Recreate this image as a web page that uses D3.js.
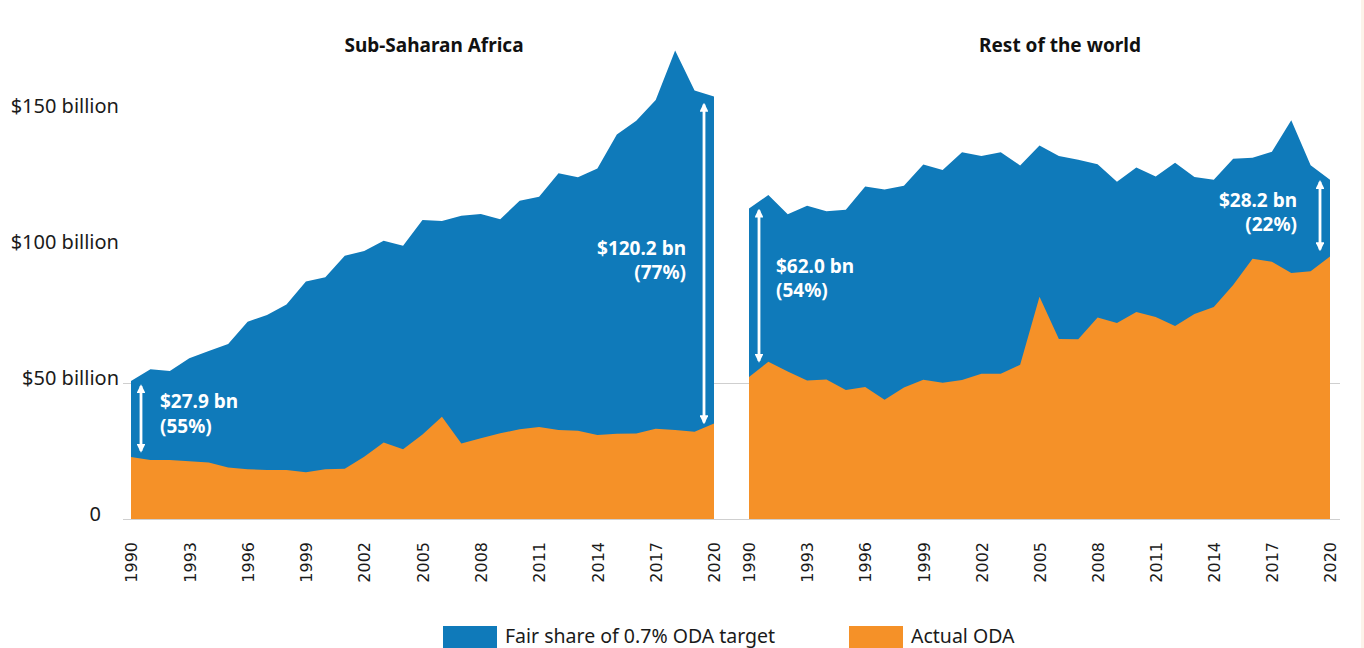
<!DOCTYPE html>
<html>
<head>
<meta charset="utf-8">
<script src="https://cdn.jsdelivr.net/npm/d3@7"></script>
<style>
	body { margin: 0; background: #ffffff; }
	svg { display: block; }
	.ylab { font-family: "Noto Sans", sans-serif; font-size: 20px; fill: #1a1a1a; }
	.xlab { font-family: "DejaVu Sans", sans-serif; font-size: 16px; fill: #1a1a1a; }
	.title { font-family: "Noto Sans", sans-serif; font-size: 19px; font-weight: bold; fill: #111; }
	.note { font-family: "Noto Sans", sans-serif; font-size: 19px; font-weight: bold; fill: #ffffff; }
	.legend { font-family: "Noto Sans", sans-serif; font-size: 19.5px; fill: #1a1a1a; }
</style>
</head>
<body>
<script>
/*data (US$ billion)*/
var years = [1990, 1991, 1992, 1993, 1994, 1995, 1996, 1997, 1998, 1999, 2000,
	2001, 2002, 2003, 2004, 2005, 2006, 2007, 2008, 2009, 2010,
	2011, 2012, 2013, 2014, 2015, 2016, 2017, 2018, 2019, 2020];
var tickYears = [1990, 1993, 1996, 1999, 2002, 2005, 2008, 2011, 2014, 2017, 2020];
var yTicks = [0, 50, 100, 150];
var gridValues = [0, 50];

var ssaTarget = [50.7, 55.1, 54.4, 59.1, 61.8, 64.3, 72.5, 75.0, 78.9, 87.3, 88.9,
	96.8, 98.5, 102.3, 100.5, 109.9, 109.6, 111.5, 112.1, 110.2, 117.0,
	118.5, 127.1, 125.6, 128.9, 141.4, 146.4, 154.0, 172.2, 157.5, 155.3];
var ssaActual = [22.8, 21.7, 21.7, 21.2, 20.8, 18.9, 18.3, 18.0, 18.0, 17.2, 18.3,
	18.5, 22.9, 28.1, 25.6, 31.1, 37.6, 27.8, 29.7, 31.5, 33.0,
	33.8, 32.7, 32.4, 30.9, 31.3, 31.4, 33.2, 32.7, 32.1, 35.1];
var rowTarget = [114.2, 119.1, 112.0, 115.2, 113.1, 113.7, 122.2, 121.1, 122.5, 130.3, 128.3,
	134.8, 133.5, 134.8, 130.0, 137.3, 133.5, 132.1, 130.4, 124.0, 129.2,
	125.9, 131.0, 125.7, 124.7, 132.4, 132.8, 135.0, 146.6, 130.1, 124.7];
var rowActual = [52.2, 57.8, 54.2, 50.9, 51.3, 47.4, 48.5, 43.8, 48.3, 51.2, 50.1,
	51.1, 53.4, 53.4, 56.7, 81.7, 66.2, 66.1, 74.1, 72.1, 76.1,
	74.3, 71.0, 75.4, 77.9, 86.0, 95.7, 94.6, 90.4, 91.1, 96.5];

var panelTitles = ["Sub-Saharan Africa", "Rest of the world"];
var noteYears = [1990, 2020];
var noteLines = [
	[["$27.9 bn", "(55%)"], ["$120.2 bn", "(77%)"]],
	[["$62.0 bn", "(54%)"], ["$28.2 bn", "(22%)"]]
];
var legendLabels = ["Fair share of 0.7% ODA target", "Actual ODA"];

var blue = "#0f7aba";
var orange = "#f59128";

/*chart size and panel layout*/
var svgWidth = 1364;
var svgHeight = 648;
var top0 = 111, bottom0 = 519;
var panels = [
	{ x0: 131, x1: 714, target: ssaTarget, actual: ssaActual, titleX: 434 },
	{ x0: 749, x1: 1330, target: rowTarget, actual: rowActual, titleX: 1060 }
];
/*arrow padding (top, bottom), label offset from arrow top, label shift from arrow*/
var arrowPad = [[[3, 4], [6, -1]], [[0, 14], [0, 5]]];
var labelDown = [[24, 152], [64.5, 27]];
var labelShift = [[19, -18], [17, -23]];

var svg = d3.select("body")
	.append("svg")
	.attr("width", svgWidth)
	.attr("height", svgHeight);

/*arrow heads*/
var defs = svg.append("defs");
defs.append("marker")
	.attr("id", "head")
	.attr("viewBox", "0 0 10 10")
	.attr("refX", 8)
	.attr("refY", 5)
	.attr("markerWidth", 3.2)
	.attr("markerHeight", 3.2)
	.attr("markerUnits", "strokeWidth")
	.attr("orient", "auto-start-reverse")
	.append("path")
	.attr("d", "M0,0 L10,5 L0,10 Z")
	.attr("fill", "#ffffff");

/*faint strip at the right edge*/
svg.append("rect")
	.attr("x", 1361).attr("y", 0)
	.attr("width", 3).attr("height", svgHeight)
	.attr("fill", "#fcf3ea");

var yScale = d3.scaleLinear()
	.domain([0, 150])
	.range([bottom0, top0]);

/*grid lines*/
svg.append("g")
	.selectAll("line")
	.data(gridValues)
	.enter()
	.append("line")
	.attr("x1", 123)
	.attr("x2", 1340)
	.attr("y1", d => yScale(d) + 0.5)
	.attr("y2", d => yScale(d) + 0.5)
	.attr("stroke", "#cfcfcf")
	.attr("stroke-width", 1.2);

/*y axis labels*/
var leftAxis = d3.axisLeft(yScale)
	.tickValues(yTicks)
	.tickSize(0)
	.tickFormat(d => d === 0 ? "0" : "$" + d + " billion");
var yAxis = svg.append("g")
	.attr("transform", "translate(119,0)")
	.call(leftAxis);
yAxis.select(".domain").remove();
yAxis.selectAll("text")
	.attr("class", "ylab")
	.attr("x", d => d === 0 ? -18 : 0)
	.attr("dy", "0.05em")
	.attr("fill", null);

/*draw each panel*/
panels.forEach(function (p, i) {
	var xScale = d3.scaleLinear()
		.domain([1990, 2020])
		.range([p.x0, p.x1]);

	var area = d3.area()
		.x((d, k) => xScale(years[k]))
		.y0(yScale(0))
		.y1(d => yScale(d));

	var g = svg.append("g");

	g.append("path")
		.datum(p.target)
		.attr("d", area)
		.attr("fill", blue);

	g.append("path")
		.datum(p.actual)
		.attr("d", area)
		.attr("fill", orange);

	/*bottom axis with rotated year labels*/
	var bottomAxis = d3.axisBottom(xScale)
		.tickValues(tickYears)
		.tickSize(0)
		.tickFormat(d3.format("d"));
	var xAxis = g.append("g")
		.attr("transform", `translate(0, ${bottom0})`)
		.call(bottomAxis);
	xAxis.select(".domain").remove();
	xAxis.selectAll("text")
		.attr("class", "xlab")
		.attr("fill", null)
		.attr("transform", "rotate(-90)")
		.attr("text-anchor", "end")
		.attr("x", -23)
		.attr("y", 0)
		.attr("dy", "0.36em");

	/*panel title*/
	g.append("text")
		.attr("class", "title")
		.attr("x", p.titleX)
		.attr("y", 52)
		.attr("text-anchor", "middle")
		.text(panelTitles[i]);

	/*shortfall arrows and labels*/
	noteYears.forEach(function (yr, j) {
		var k = years.indexOf(yr);
		var first = j === 0;
		var ax = first ? p.x0 + 10 : p.x1 - 10;
		var yTop = yScale(p.target[k]) + arrowPad[i][j][0];
		var yBot = yScale(p.actual[k]) - arrowPad[i][j][1];

		g.append("line")
			.attr("x1", ax).attr("x2", ax)
			.attr("y1", yTop + 2).attr("y2", yBot - 2)
			.attr("stroke", "#ffffff")
			.attr("stroke-width", 2.8)
			.attr("marker-start", "url(#head)")
			.attr("marker-end", "url(#head)");

		var baseY = yTop + labelDown[i][j];
		g.append("text")
			.attr("class", "note")
			.attr("text-anchor", first ? "start" : "end")
			.selectAll("tspan")
			.data(noteLines[i][j])
			.enter()
			.append("tspan")
			.attr("x", ax + labelShift[i][j])
			.attr("y", (d, n) => baseY + n * 24.5)
			.text(d => d);
	});
});

/*legend*/
var legendColors = [blue, orange];
var legendX = [443, 849];
var legend = svg.append("g")
	.selectAll("g")
	.data(legendLabels)
	.enter()
	.append("g")
	.attr("transform", (d, i) => `translate(${legendX[i]}, 626)`);
legend.append("rect")
	.attr("width", 54)
	.attr("height", 22)
	.attr("fill", (d, i) => legendColors[i]);
legend.append("text")
	.attr("class", "legend")
	.attr("x", 62)
	.attr("y", 16.5)
	.text(d => d);
</script>
</body>
</html>
